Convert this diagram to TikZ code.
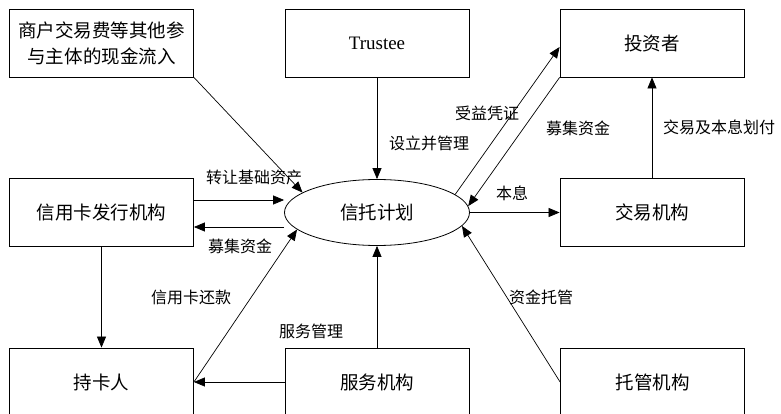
\documentclass[tikz,border=0pt]{standalone}
\usepackage{fontspec}
\setmainfont{Liberation Serif}
\newfontfamily\cjk{Noto Sans CJK SC}
\usetikzlibrary{arrows.meta,shapes.geometric}
\begin{document}
\begin{tikzpicture}[x=1pt,y=-1pt,
  box/.style={draw, line width=0.8pt, minimum width=184pt, minimum height=68pt, inner sep=0pt, font=\cjk\fontsize{18.5}{26}\selectfont},
  lbl/.style={font=\cjk\fontsize{16}{19}\selectfont, inner sep=0pt},
  arr/.style={line width=0.7pt, -{Triangle[length=11pt,width=9pt]}}]
\useasboundingbox (0,0) rectangle (781,414);
\clip (0,0) rectangle (781,414);
% nodes
\node[box, align=center] (m) at (101.5,43) {商户交易费等其他参\\与主体的现金流入};
\node[box, font=\fontsize{19}{22}\selectfont] (tr) at (377,43) {Trustee};
\node[box] (tz) at (652,43) {投资者};
\node[box] (fx) at (101.5,212.5) {信用卡发行机构};
\node[draw, ellipse, line width=0.8pt, minimum width=185pt, minimum height=66pt, inner sep=0pt, font=\cjk\fontsize{18.5}{26}\selectfont] (plan) at (377,212.5) {信托计划};
\node[box] (jy) at (652,212.5) {交易机构};
\node[box] (ck) at (101.5,382) {持卡人};
\node[box] (sv) at (377,382) {服务机构};
\node[box] (tg) at (652.5,382) {托管机构};
% connectors
\draw[arr] (m.south east) -- (plan.165);
\draw[arr] (tr) -- (plan);
\coordinate (a1) at ([yshift=12.5pt]fx.east);
\draw[arr] (a1) -- (a1 -| plan.west);
\coordinate (a2) at ([yshift=-14.5pt]fx.east);
\draw[arr] (a2 -| plan.west) -- (a2);
\draw[arr] (plan.13) -- ([yshift=-4pt]tz.west);
\draw[arr] (tz.south west) -- (plan.4);
\draw[arr] (plan) -- (jy);
\draw[arr] (jy) -- (tz);
\draw[arr] (fx) -- (ck);
\draw[arr] (ck.east) -- (plan.192);
\draw[arr] (sv) -- (ck);
\draw[arr] (sv) -- (plan);
\draw[arr] (tg.west) -- (plan.351);
% labels
\node[lbl] (l1) at (254,177) {转让基础资产};
\node[lbl] (l2) at (240,246) {募集资金};
\node[lbl] (l3) at (429,143) {设立并管理};
\node[lbl] (l4) at (487,113) {受益凭证};
\node[lbl] (l5) at (578,128) {募集资金};
\node[lbl] (l6) at (512,193) {本息};
\node[lbl] (l7) at (719,127) {交易及本息划付};
\node[lbl] (l8) at (191,297) {信用卡还款};
\node[lbl] (l9) at (311,331) {服务管理};
\node[lbl] (l10) at (541,297) {资金托管};
\end{tikzpicture}
\end{document}
